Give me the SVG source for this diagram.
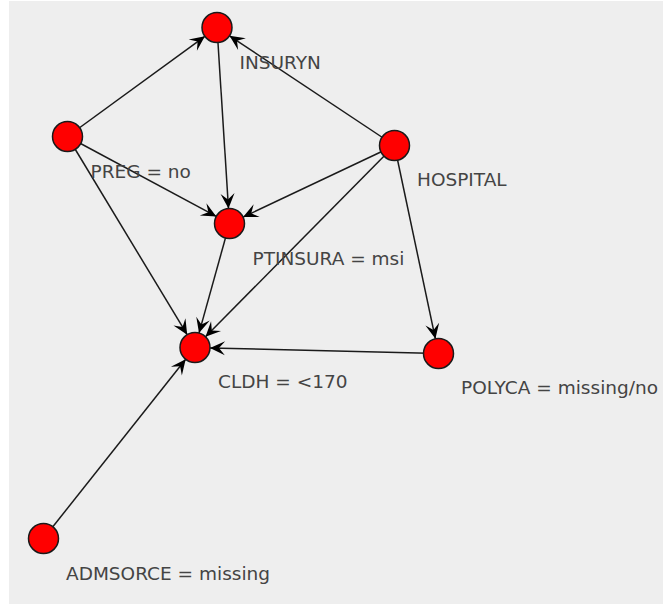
<svg xmlns="http://www.w3.org/2000/svg" width="663" height="604" viewBox="0 0 663 604">
  <style>
    .edge { stroke: #1a1a1a; stroke-width: 1.5; fill: none; marker-end: url(#arrow); }
    .node circle { fill: #ff0000; stroke: #1a1a1a; stroke-width: 1.5; }
    .node text { font-family: "DejaVu Sans", "Noto Sans", sans-serif; font-size: 18.5px; fill: #444444; }
  </style>
  <defs>
    <marker id="arrow" markerUnits="userSpaceOnUse" viewBox="-16 -8 17 16" refX="0" refY="0" markerWidth="17" markerHeight="16" orient="auto">
      <path d="M0,0 L-15,-7 L-9,0 L-15,7 Z" fill="#000000"/>
    </marker>
  </defs>

  <!-- canvas -->
  <rect x="0" y="0" width="663" height="604" fill="#ffffff"/>
  <rect x="9" y="1" width="654" height="603" fill="#eeeeee"/>

  <!-- directed edges -->
  <g id="edges">
    <line class="edge" x1="67.5" y1="136.5" x2="204.9" y2="36.3"/>
    <line class="edge" x1="217" y1="27.5" x2="228.5" y2="208.5"/>
    <line class="edge" x1="394.5" y1="145.5" x2="229.5" y2="35.8"/>
    <line class="edge" x1="67.5" y1="136.5" x2="216.3" y2="216.4"/>
    <line class="edge" x1="394.5" y1="145.5" x2="243.1" y2="217.1"/>
    <line class="edge" x1="67.5" y1="136.5" x2="187.2" y2="334.7"/>
    <line class="edge" x1="229.5" y1="223.5" x2="199.0" y2="333.1"/>
    <line class="edge" x1="394.5" y1="145.5" x2="205.5" y2="336.8"/>
    <line class="edge" x1="394.5" y1="145.5" x2="435.4" y2="338.8"/>
    <line class="edge" x1="438.5" y1="353.5" x2="210" y2="347.9"/>
    <line class="edge" x1="43.5" y1="538.5" x2="185.7" y2="359.3"/>
  </g>

  <!-- variables -->
  <g id="INSURYN" class="node">
    <circle cx="217" cy="27.5" r="15"/>
    <text x="239.5" y="68.5">INSURYN</text>
  </g>
  <g id="PREG" class="node">
    <circle cx="67.5" cy="136.5" r="15"/>
    <text x="90.5" y="177.5">PREG = no</text>
  </g>
  <g id="HOSPITAL" class="node">
    <circle cx="394.5" cy="145.5" r="15"/>
    <text x="417" y="185.5">HOSPITAL</text>
  </g>
  <g id="PTINSURA" class="node">
    <circle cx="229.5" cy="223.5" r="15"/>
    <text x="252.5" y="264.5">PTINSURA = msi</text>
  </g>
  <g id="CLDH" class="node">
    <circle cx="195" cy="347.5" r="15"/>
    <text x="218" y="388">CLDH = &lt;170</text>
  </g>
  <g id="POLYCA" class="node">
    <circle cx="438.5" cy="353.5" r="15"/>
    <text x="461" y="394">POLYCA = missing/no</text>
  </g>
  <g id="ADMSORCE" class="node">
    <circle cx="43.5" cy="538.5" r="15"/>
    <text x="66" y="580">ADMSORCE = missing</text>
  </g>
</svg>
